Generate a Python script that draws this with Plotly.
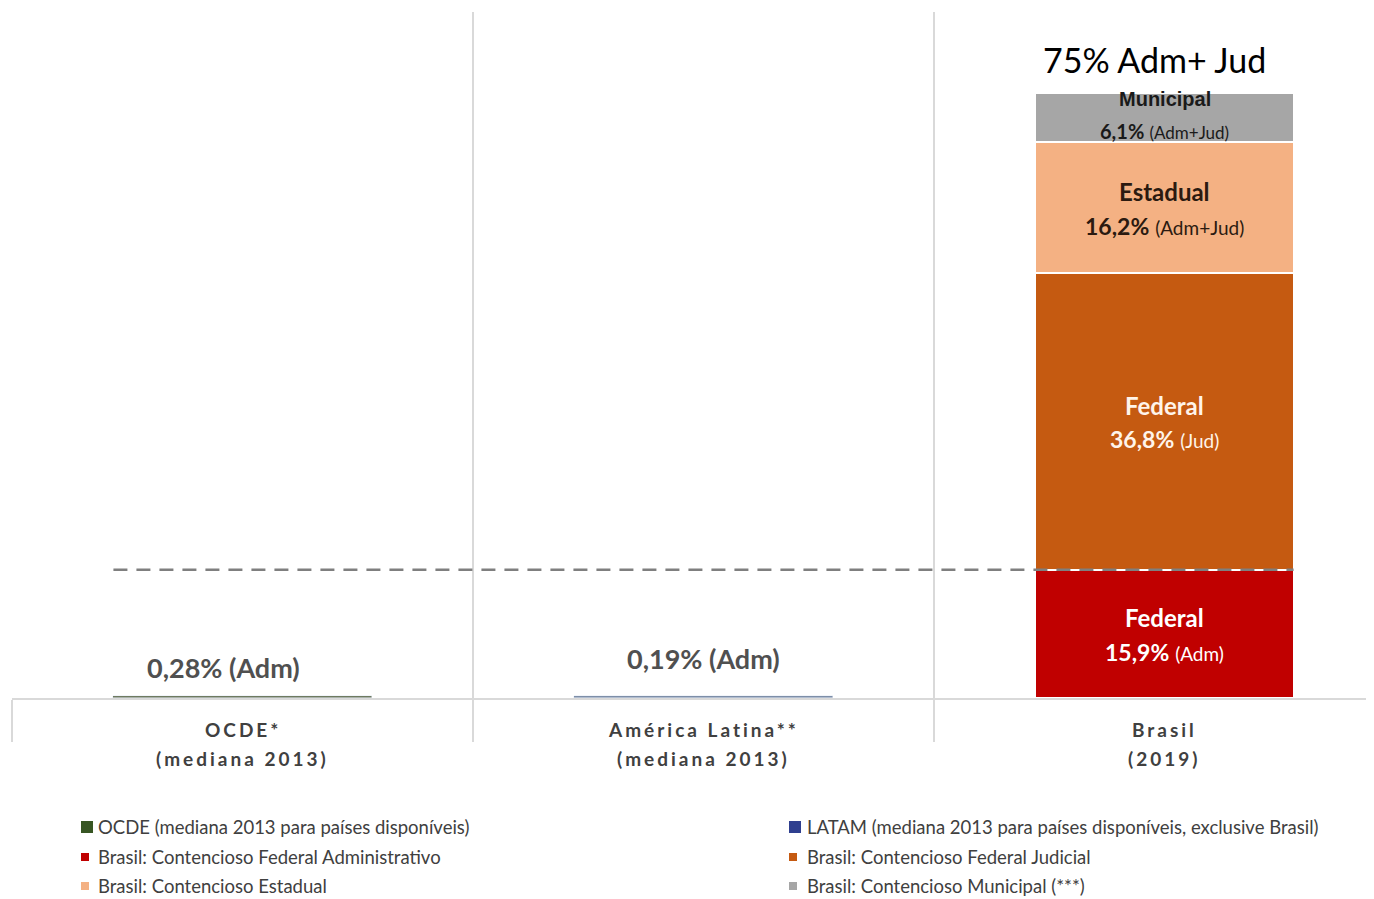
import plotly.graph_objects as go

# ---------------- data ----------------
categories = ["OCDE*", "América Latina**", "Brasil"]
category_sub = ["(mediana 2013)", "(mediana 2013)", "(2019)"]

ocde_value = 0.28
latam_value = 0.19
brasil_segments = ["Federal", "Federal", "Estadual", "Municipal"]
brasil_kinds = ["(Adm)", "(Jud)", "(Adm+Jud)", "(Adm+Jud)"]
brasil_values = [15.9, 36.8, 16.2, 6.1]
brasil_total_label = "75% Adm+ Jud"

legend_names = [
    "OCDE (mediana 2013 para países disponíveis)",
    "LATAM (mediana 2013 para países disponíveis, exclusive Brasil)",
    "Brasil: Contencioso Federal Administrativo",
    "Brasil: Contencioso Federal Judicial",
    "Brasil: Contencioso Estadual",
    "Brasil: Contencioso Municipal (***)",
]

# ---------------- styles ----------------
OFF = 8  # page body margin
W, H = 1366, 891
ML, MR, MT, MB = 4, 0, 4, 201
PW = W - ML - MR
PH = H - MT - MB
BAR_W = 0.56
FONT = "Lato"
GREY_TXT = "#505050"
GRID = "#d9d9d9"
c_ocde_bar, c_ocde_leg = "#6e7a60", "#375623"
c_latam_bar, c_latam_leg = "#7d8ea8", "#2f3f8f"
brasil_colors = ["#c00000", "#c55a11", "#f4b183", "#a6a6a6"]
brasil_text_colors = ["#ffffff", "#fff4ea", "#2b1a10", "#1a1a1a"]


def px_x(px):
    return (px - OFF - ML) / PW


def px_y(py):
    return (H - MB - (py - OFF)) / PH


fig = go.Figure()
fig.add_trace(go.Bar(x=[0], y=[ocde_value], width=BAR_W, marker_color=c_ocde_bar,
                     name=legend_names[0], showlegend=False))
fig.add_trace(go.Bar(x=[1], y=[latam_value], width=BAR_W, marker_color=c_latam_bar,
                     name=legend_names[1], showlegend=False))
for i, v in enumerate(brasil_values):
    fig.add_trace(go.Bar(x=[2], y=[v], width=BAR_W, marker_color=brasil_colors[i],
                         marker_line=dict(color="white", width=2),
                         name=legend_names[2 + i], showlegend=False))

annotations = []
# labels inside Brasil segments
base = 0
for i, v in enumerate(brasil_values):
    mid = base + v / 2
    tc = brasil_text_colors[i]
    pct = f"{v:.1f}".replace(".", ",") + "%"
    if brasil_segments[i] == "Municipal":
        top_font = dict(family="Liberation Sans Narrow, Liberation Sans", size=20, color=tc)
        pct_size, kind_size, up, down = 20, 17, 19, -13
    else:
        top_font = dict(family=FONT, size=24, color=tc)
        pct_size, kind_size, up, down = 23, 19, 16, -18
    annotations.append(dict(x=2, y=mid, xref="x", yref="y", showarrow=False,
                            text=f"<b>{brasil_segments[i]}</b>", font=top_font,
                            yshift=up, yanchor="middle"))
    annotations.append(dict(x=2, y=mid, xref="x", yref="y", showarrow=False,
                            text=f"<b>{pct}</b> <span style='font-size:{kind_size}px'>{brasil_kinds[i]}</span>",
                            font=dict(family=FONT, size=pct_size, color=tc),
                            yshift=down, yanchor="middle"))
    base += v

annotations.append(dict(x=2, y=base, xref="x", yref="y", showarrow=False,
                        text=brasil_total_label, xshift=-10, yshift=34, yanchor="middle",
                        font=dict(family=FONT, size=34, color="#000000")))

# labels above small bars
for xi, val, shift in [(0, ocde_value, 28), (1, latam_value, 38)]:
    annotations.append(dict(x=xi, y=val, xref="x", yref="y", showarrow=False,
                            text="<b>" + f"{val:.2f}".replace(".", ",") + "% (Adm)</b>",
                            yshift=shift, yanchor="middle", xshift=-19 if xi == 0 else 0,
                            font=dict(family=FONT, size=27, color=GREY_TXT)))

# category labels
for xi, (c, s) in enumerate(zip(categories, category_sub)):
    for txt, sh in [(c, -31), (s, -60)]:
        annotations.append(dict(x=xi, y=0, xref="x", yref="paper", showarrow=False,
                                text=f"<b><span style='letter-spacing:3px'>{txt}</span></b>",
                                yshift=sh, yanchor="middle",
                                font=dict(family=FONT, size=19, color="#404040")))

# custom legend
shapes = []
leg_cols = [(81, 96), (789, 805)]
leg_rows = [827, 857, 886]
leg_colors = [c_ocde_leg, c_latam_leg] + brasil_colors
for k, name in enumerate(legend_names):
    col = k % 2
    row = k // 2
    sx, tx = leg_cols[col]
    cy = leg_rows[row]
    sz = 12 if row == 0 else 8
    shapes.append(dict(type="rect", xref="paper", yref="paper",
                       x0=px_x(sx), x1=px_x(sx + sz), y0=px_y(cy + sz / 2), y1=px_y(cy - sz / 2),
                       fillcolor=leg_colors[k], line_width=0))
    annotations.append(dict(x=px_x(tx), y=px_y(cy), xref="paper", yref="paper",
                            showarrow=False, xanchor="left", yanchor="middle",
                            text=name, font=dict(family=FONT, size=18.5, color="#404040")))

# dashed reference line at Federal Adm level
shapes.append(dict(type="line", xref="x", yref="y",
                   x0=0 - BAR_W / 2, x1=2 + BAR_W / 2,
                   y0=brasil_values[0], y1=brasil_values[0],
                   line=dict(color="#7f7f7f", width=2.5, dash="14px,9px"), layer="above"))

fig.update_layout(
    width=W, height=H, barmode="stack",
    margin=dict(l=ML, r=MR, t=MT, b=MB),
    paper_bgcolor="white", plot_bgcolor="white",
    showlegend=False, bargap=0,
    xaxis=dict(range=[-0.5, -0.5 + PW / 461], tickvals=[-0.5, 0.5, 1.5, 2.5],
               ticktext=["", "", "", ""], showgrid=True, gridcolor=GRID, gridwidth=1.5,
               ticks="outside", ticklen=42, tickcolor=GRID, tickwidth=1.5,
               showline=True, linecolor=GRID, linewidth=1.5, zeroline=False,
               fixedrange=True),
    yaxis=dict(range=[0, PH / (605 / sum(brasil_values))], visible=False, showgrid=False,
               zeroline=False, fixedrange=True),
    annotations=annotations, shapes=shapes,
    font=dict(family=FONT),
)

fig.write_html("out.html")
